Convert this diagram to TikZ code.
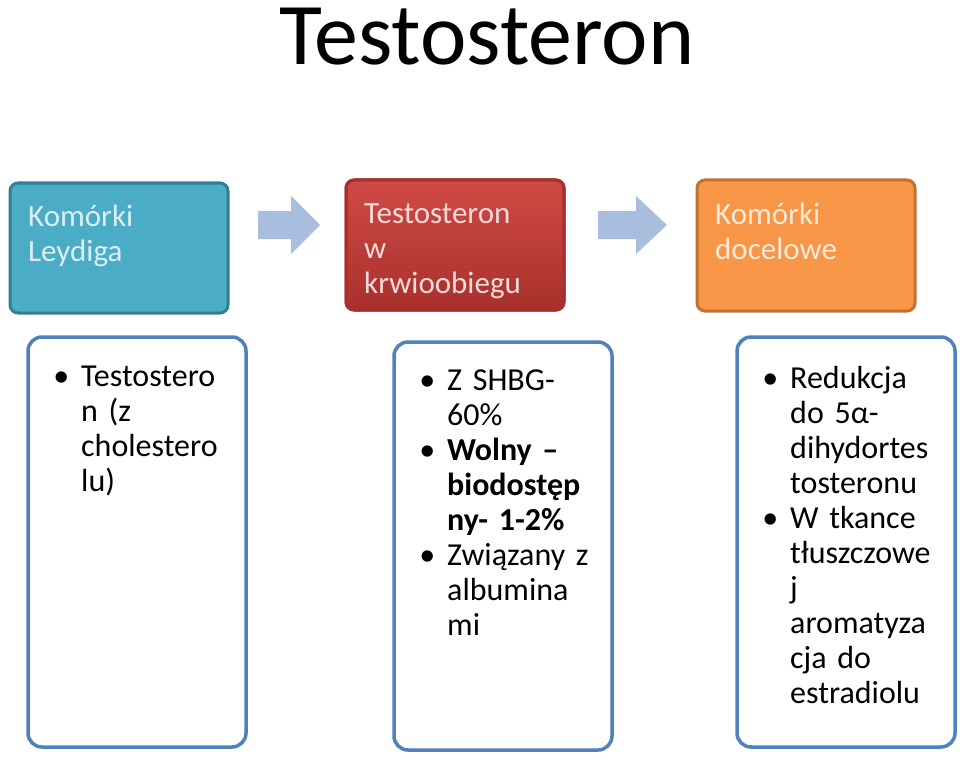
\documentclass[tikz,border=0pt]{standalone}
\usepackage{fontspec}
\setmainfont{Carlito}
\definecolor{teal1}{HTML}{4BACC6}
\definecolor{teal2}{HTML}{357D91}
\definecolor{red1}{HTML}{D04A45}
\definecolor{red2}{HTML}{A8302C}
\definecolor{org1}{HTML}{F79646}
\definecolor{org2}{HTML}{C0732F}
\definecolor{blu}{HTML}{4F81BD}
\definecolor{arr}{HTML}{A9BEDF}
\tikzset{x=1pt,y=-1pt,
 top/.style={rounded corners=8pt,line width=3pt},
 lowbox/.style={draw=blu,fill=white,rounded corners=14pt,line width=3.5pt},
 toptxt/.style={anchor=north west,align=left,text width=195pt,font=\fontsize{31}{35}\selectfont,inner sep=0pt},
 bul/.style={anchor=north west,align=left,text width=175pt,font=\fontsize{32}{35}\selectfont,inner sep=0pt},
 blockarrow/.style={fill=arr,draw=none}}
\newcommand{\bl}{\makebox[0pt][r]{\textbullet\hspace{12pt}}}
\begin{document}
\begin{tikzpicture}
\useasboundingbox (0,0) rectangle (960,762);
\node (title) at (487,37) {\fontsize{88}{90}\selectfont Testosteron};
\draw[top,draw=teal2,fill=teal1] (10,183) rectangle (228,313);
\node[toptxt,text=white!80!teal1] (a) at (28,205) {Komórki\\Leydiga};
\shade[top,top color=red1,bottom color=red2,draw=red2] (346,180) rectangle (564,310);
\draw[top,draw=red2] (346,180) rectangle (564,310);
\node[toptxt,text=white!80!red1] (b) at (364,203) {Testosteron\\w\\krwioobiegu};
\draw[top,draw=org2,fill=org1] (697,180) rectangle (915,311);
\node[toptxt,text=white!80!org1] (c) at (715,203) {Komórki\\docelowe};
\fill[blockarrow] (258,211) -- (291,211) -- (291,196) -- (320,225) -- (291,254) -- (291,239) -- (258,239) -- cycle;
\fill[blockarrow] (598,211) -- (636,211) -- (636,196) -- (667,225) -- (636,254) -- (636,239) -- (598,239) -- cycle;
\draw[lowbox] (28,337) rectangle (246,747);
\draw[lowbox] (394,342) rectangle (612,750);
\draw[lowbox] (737,337) rectangle (955,747);
\node[bul] (d) at (81,366) {\bl Testostero\\n (z\\cholestero\\lu)};
\node[bul] (e) at (447,370) {\bl Z SHBG-\\60\%\\\bl\textbf{Wolny –}\\\textbf{biodostęp}\\\textbf{ny- 1-2\%}\\\bl Związany z\\albumina\\mi};
\node[bul] (f) at (790,366) {\bl Redukcja\\do 5α-\\dihydortes\\tosteronu\\\bl W tkance\\tłuszczowe\\j\\aromatyza\\cja do\\estradiolu};
\end{tikzpicture}
\end{document}
